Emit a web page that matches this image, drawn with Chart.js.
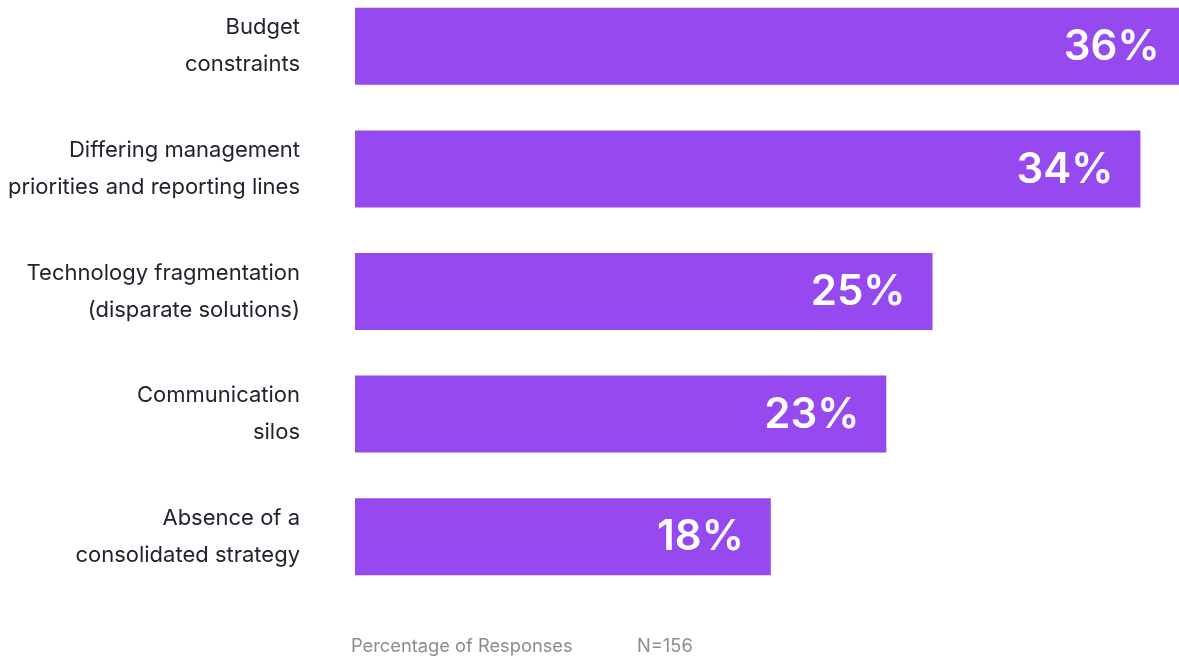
<!DOCTYPE html>
<html>
<head>
<meta charset="utf-8">
<script src="https://cdn.jsdelivr.net/npm/chart.js@4"></script>
<style>
  html, body { margin: 0; padding: 0; background: #fff; }
  body { width: 1179px; height: 657px; position: relative; overflow: hidden; font-family: Inter, "Noto Sans", sans-serif; }
  #wrap { position: absolute; left: 0; top: -15px; width: 1179px; height: 672px; }
  .foot { position: absolute; top: 634px; font-size: 18.3px; color: #8c8c8c; }
</style>
</head>
<body>
<div id="wrap"><canvas id="barChart"></canvas></div>
<span class="foot" style="left:351px">Percentage of Responses</span>
<span class="foot" style="left:637px">N=156</span>
<script>
// survey results: reasons cited, share of respondents (%)
const categories = [
    ["Budget", "constraints"],
    ["Differing management", "priorities and reporting lines"],
    ["Technology fragmentation", "(disparate solutions)"],
    ["Communication", "silos"],
    ["Absence of a", "consolidated strategy"]
];
const responses = [36, 34, 25, 23, 18];

const BAR_COLOR = "#9549ef";

// white "NN%" text drawn inside the right end of each bar
const valueLabels = {
    id: "valueLabels",
    afterDatasetsDraw(chart) {
        const ctx = chart.ctx;
        const meta = chart.getDatasetMeta(0);
        ctx.save();
        ctx.fillStyle = "#ffffff";
        ctx.font = "600 42px Inter, sans-serif";
        ctx.textAlign = "right";
        ctx.textBaseline = "middle";
        meta.data.forEach((bar, i) => {
            ctx.fillText(responses[i] + "%", bar.x - 27, bar.y + 1);
        });
        ctx.restore();
    }
};

document.addEventListener("DOMContentLoaded", () => {
    const ctx = document.getElementById("barChart").getContext("2d");
    new Chart(ctx, {
        type: "bar",
        data: {
            labels: categories,
            datasets: [{
                data: responses,
                backgroundColor: BAR_COLOR,
                borderWidth: 0,
                barPercentage: 1,
                categoryPercentage: 0.628
            }]
        },
        options: {
            indexAxis: "y",
            responsive: true,
            maintainAspectRatio: false,
            animation: false,
            layout: { padding: { top: 0, right: 0, bottom: 59, left: 0 } },
            plugins: {
                legend: { display: false },
                tooltip: { enabled: false }
            },
            scales: {
                x: {
                    display: false,
                    min: 0,
                    max: 35.67
                },
                y: {
                    // invisible tick marks give the gap between labels and bars
                    grid: {
                        drawOnChartArea: false,
                        drawTicks: true,
                        tickLength: 53,
                        color: "rgba(0,0,0,0)"
                    },
                    border: { display: false },
                    afterFit: scale => {
                        scale.width = 355;
                        // labels sit inside their slots, no extra room above/below
                        scale.paddingTop = 0;
                        scale.paddingBottom = 0;
                    },
                    ticks: {
                        padding: 2,
                        color: "#23232f",
                        font: { family: "Inter, sans-serif", size: 22, lineHeight: 1.68 }
                    }
                }
            }
        },
        plugins: [valueLabels]
    });
});
</script>
</body>
</html>
